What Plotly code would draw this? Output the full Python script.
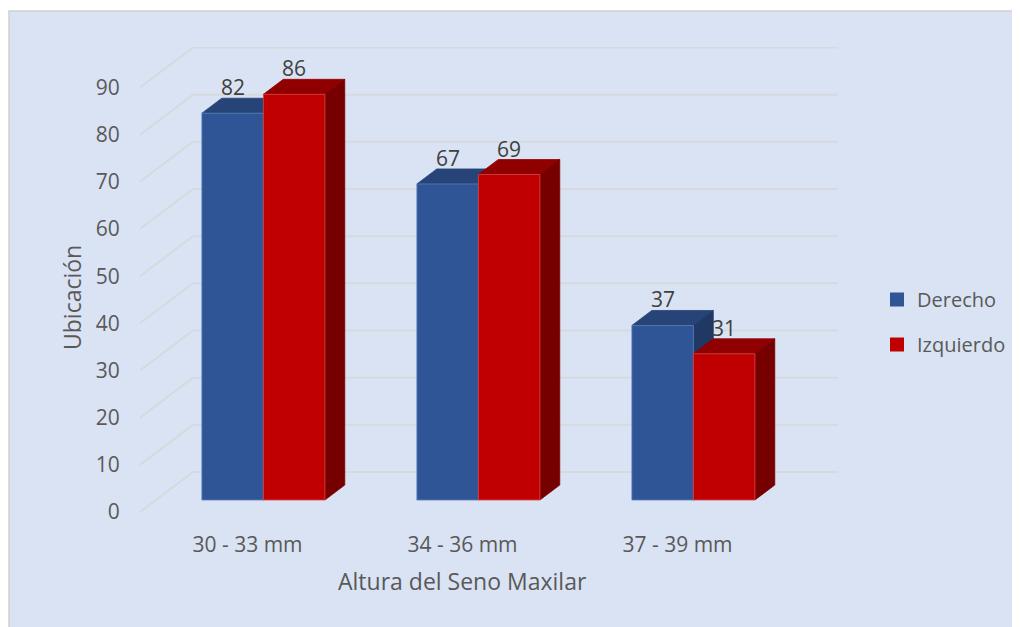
import plotly.graph_objects as go

# ---- data ----
categories = ["30 - 33 mm", "34 - 36 mm", "37 - 39 mm"]
derecho = [82, 67, 37]
izquierdo = [86, 69, 31]
series_names = ["Derecho", "Izquierdo"]
y_ticks = [0, 10, 20, 30, 40, 50, 60, 70, 80, 90]
y_title = "Ubicación"
x_title = "Altura del Seno Maxilar"

# ---- geometry / style ----
OFF = 8                                     # page body margin compensation
W, H = 1020, 627
PL, PR, PT, PB = 140 - OFF, 838 - OFF, 47 - OFF, 512 - OFF   # plot area (figure px)
PX_X = 215.0                                # px per category
PX_Y = 4.717                                # px per value unit
DX = 53 / PX_X                              # full-depth offset in x units
DY = 40 / PX_Y                              # full-depth offset in y units
D_FRONT, D_BACK = 0.30, 0.675               # bar depth range
BW = 61.5 / PX_X                            # bar width

front_cols = ["#2F5597", "#C00000"]
top_cols = ["#264478", "#900000"]
side_cols = ["#203864", "#760000"]
edge_cols = ["#5B7DBB", "#D64545"]
BG = "#DAE3F3"
GRID = "#D6D9DE"
FONT = "Open Sans"
TXT = "#595959"

def proj(x, d, v):
    return x + d * DX, v + d * DY

def poly(pts):
    xs, ys = [], []
    for (x, d, v) in pts:
        px, py = proj(x, d, v)
        xs.append(px); ys.append(py)
    xs.append(xs[0]); ys.append(ys[0])
    return xs, ys

fig = go.Figure()

# back wall gridlines and floor diagonals
gx, gy = [], []
n_cat = len(categories)
for v in y_ticks:
    x0, y0 = proj(0, 0, v)
    x1, y1 = proj(0, 1, v)
    x2, y2 = proj(n_cat, 1, v)
    gx += [x0, x1, x2, None]
    gy += [y0, y1, y2, None]
fig.add_trace(go.Scatter(x=gx, y=gy, mode="lines", line=dict(color=GRID, width=2),
                         hoverinfo="skip", showlegend=False, cliponaxis=False))

series = [derecho, izquierdo]

def face_trace(xs, ys, color, edge):
    return go.Scatter(x=xs, y=ys, mode="lines", fill="toself", fillcolor=color,
                      line=dict(color=edge, width=0.8), hoverinfo="skip", showlegend=False)

for i in range(n_cat):
    c = i + 0.5
    for s, vals in enumerate(series):
        v = vals[i]
        x0 = c - BW if s == 0 else c
        x1 = x0 + BW
        xs, ys = poly([(x0, D_FRONT, v), (x1, D_FRONT, v), (x1, D_BACK, v), (x0, D_BACK, v)])
        fig.add_trace(face_trace(xs, ys, top_cols[s], top_cols[s]))
        xs, ys = poly([(x1, D_FRONT, 0), (x1, D_BACK, 0), (x1, D_BACK, v), (x1, D_FRONT, v)])
        fig.add_trace(face_trace(xs, ys, side_cols[s], side_cols[s]))
        xs, ys = poly([(x0, D_FRONT, 0), (x1, D_FRONT, 0), (x1, D_FRONT, v), (x0, D_FRONT, v)])
        fig.add_trace(face_trace(xs, ys, front_cols[s], edge_cols[s]))

# data labels
annotations = []
for i in range(n_cat):
    c = i + 0.5
    for s, vals in enumerate(series):
        v = vals[i]
        xc = (c - BW / 2) if s == 0 else (c + BW / 2)
        px, _ = proj(xc, D_FRONT, v)
        _, py = proj(xc, D_BACK, v)
        annotations.append(dict(x=px, y=py, text=str(v), showarrow=False,
                                xanchor="center", yanchor="middle", yshift=11,
                                font=dict(family=FONT, size=21, color="#404040")))

# legend dummies
for s, name in enumerate(series_names):
    fig.add_trace(go.Scatter(x=[None], y=[None], mode="markers", name=name,
                             legendgroup=name,
                             marker=dict(symbol="square", size=14, color=front_cols[s])))

def paper_x(ref_px):
    return (ref_px - OFF - PL) / (PR - PL)

def paper_y(ref_py):
    return (PB - (ref_py - OFF)) / (PB - PT)

annotations.append(dict(x=paper_x(72), y=paper_y(298), xref="paper", yref="paper",
                        xanchor="center", yanchor="middle",
                        text=y_title, textangle=-90, showarrow=False,
                        font=dict(family=FONT, size=23, color=TXT)))
annotations.append(dict(x=paper_x(462), y=paper_y(581), xref="paper", yref="paper",
                        xanchor="center", yanchor="middle",
                        text=x_title, showarrow=False,
                        font=dict(family=FONT, size=23, color=TXT)))

fig.update_layout(
    width=W, height=H,
    margin=dict(l=PL, r=W - PR, t=PT, b=H - PB, pad=0, autoexpand=False),
    paper_bgcolor="white", plot_bgcolor="rgba(0,0,0,0)",
    font=dict(family=FONT, size=20, color=TXT),
    showlegend=True,
    legend=dict(x=paper_x(877), y=paper_y(280), xanchor="left", yanchor="top",
                bgcolor="rgba(0,0,0,0)", tracegroupgap=16,
                font=dict(family=FONT, size=20, color=TXT),
                itemwidth=30),
    annotations=annotations,
    shapes=[dict(type="rect", xref="paper", yref="paper",
                 x0=paper_x(9), x1=paper_x(1020 + 20), y0=paper_y(627 + 20), y1=paper_y(11),
                 fillcolor=BG, line=dict(color="#D0D0D0", width=1.5), layer="below")],
    xaxis=dict(range=[0, (PR - PL) / PX_X], showgrid=False, zeroline=False,
               showline=False, tickvals=[i + 0.5 for i in range(n_cat)],
               ticktext=categories, ticks="outside", ticklen=14,
               tickcolor="rgba(0,0,0,0)", tickfont=dict(size=21, color=TXT),
               fixedrange=True, automargin=False),
    yaxis=dict(range=[0, (PB - PT) / PX_Y], showgrid=False, zeroline=False,
               showline=False, tickvals=y_ticks, ticks="outside", ticklen=15,
               tickcolor="rgba(0,0,0,0)", tickfont=dict(size=21, color=TXT),
               fixedrange=True, automargin=False),
)

fig.write_html("out.html")
